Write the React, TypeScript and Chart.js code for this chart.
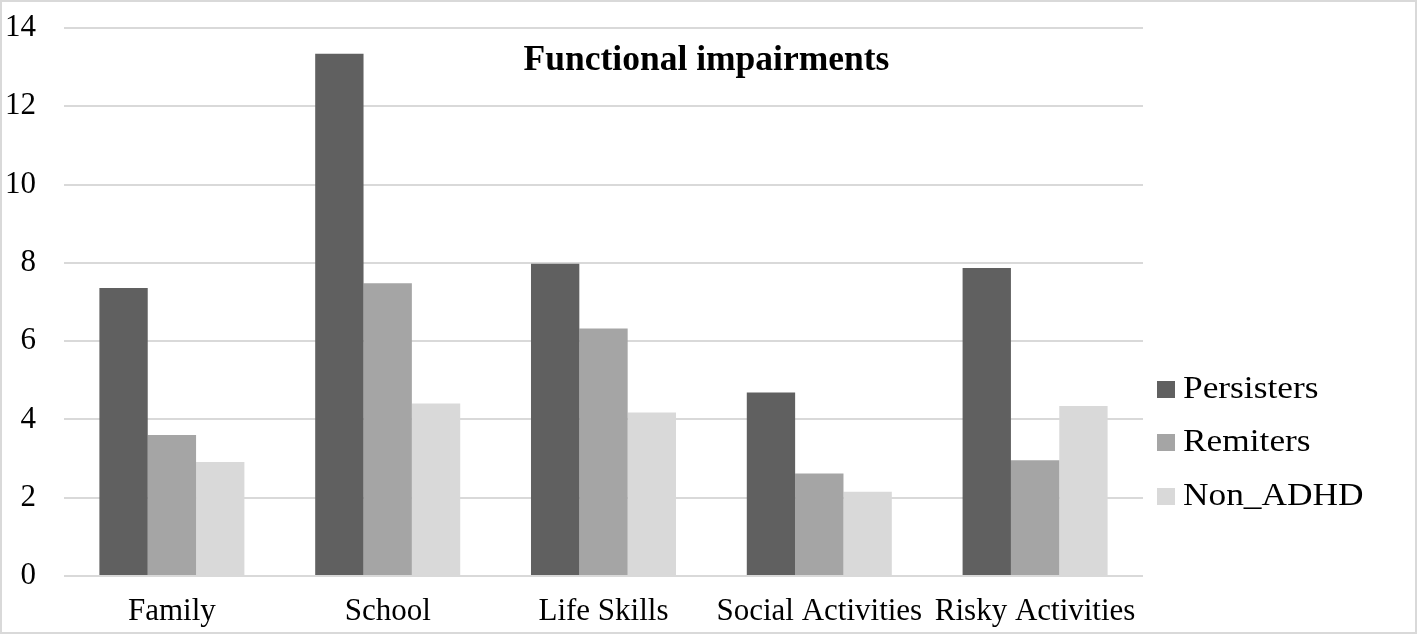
import React, { useEffect, useRef } from "react";
import { Chart, registerables } from "chart.js";

Chart.register(...registerables);

const categories = ["Family", "School", "Life Skills", "Social Activities", "Risky Activities"];
const persisters = [7.36, 13.34, 7.98, 4.69, 7.87];
const remiters = [3.6, 7.48, 6.32, 2.62, 2.96];
const nonAdhd = [2.91, 4.41, 4.18, 2.15, 4.34];
const seriesNames = ["Persisters", "Remiters", "Non_ADHD"];
const seriesColors = ["#606060", "#a5a5a5", "#d9d9d9"];
const chartTitle = "Functional impairments";

const FONT = "'Liberation Serif', 'Times New Roman', serif";

const decorPlugin = {
  id: "decor",
  afterDraw(chart: any) {
    const ctx = chart.ctx;
    const area = chart.chartArea;
    ctx.save();
    // title
    ctx.fillStyle = "#000";
    ctx.font = `bold 35.5px ${FONT}`;
    ctx.textAlign = "center";
    ctx.textBaseline = "alphabetic";
    ctx.fillText(chartTitle, chart.width / 2 - 2, 70);
    // legend
    const boxX = area.right + 14;
    const textX = area.right + 40;
    const baselines = [398, 451, 505];
    ctx.textAlign = "left";
    ctx.font = `31px ${FONT}`;
    chart.data.datasets.forEach((ds: any, i: number) => {
      const b = baselines[i];
      ctx.fillStyle = ds.backgroundColor;
      ctx.fillRect(boxX, b - 17, 18, 17);
      ctx.fillStyle = "#000";
      ctx.save();
      ctx.translate(textX, b);
      ctx.scale(1.14, 1);
      ctx.fillText(ds.label, 0, 0);
      ctx.restore();
    });
    // outer border
    ctx.strokeStyle = "#d9d9d9";
    ctx.lineWidth = 2;
    ctx.strokeRect(1, 1, chart.width - 2, chart.height - 2);
    ctx.restore();
  },
};

export default function App() {
  const ref = useRef<HTMLCanvasElement | null>(null);
  useEffect(() => {
    document.body.style.margin = "0";
    const canvas = ref.current!;
    const chart = new Chart(canvas, {
      type: "bar",
      data: {
        labels: categories,
        datasets: [
          { label: seriesNames[0], data: persisters, backgroundColor: seriesColors[0] },
          { label: seriesNames[1], data: remiters, backgroundColor: seriesColors[1] },
          { label: seriesNames[2], data: nonAdhd, backgroundColor: seriesColors[2] },
        ],
      },
      options: {
        animation: false,
        responsive: false,
        devicePixelRatio: 1,
        layout: { padding: { top: 28, right: 274, left: 0, bottom: 0 } },
        datasets: { bar: { categoryPercentage: 0.672, barPercentage: 1 } },
        plugins: {
          legend: { display: false },
          title: { display: false },
          tooltip: { enabled: false },
        },
        scales: {
          x: {
            grid: { display: false, drawTicks: false },
            border: { display: false },
            ticks: { color: "#000", font: { family: FONT, size: 31 }, padding: 17, maxRotation: 0, autoSkip: false },
            afterFit: (s: any) => { s.height = 58; },
          },
          y: {
            min: 0,
            max: 14,
            ticks: { stepSize: 2, color: "#000", font: { family: FONT, size: 31 }, padding: 28 },
            grid: { color: "#d9d9d9", lineWidth: 2, drawTicks: false },
            border: { display: false },
            afterFit: (s: any) => { s.width = 64; s.paddingTop = 0; s.paddingBottom = 0; },
          },
        },
      },
      plugins: [decorPlugin],
    });
    return () => chart.destroy();
  }, []);
  return (
    <div style={{ position: "absolute", left: 0, top: 0, width: 1417, height: 634, background: "#fff" }}>
      <canvas ref={ref} width={1417} height={634} style={{ display: "block" }} />
    </div>
  );
}
